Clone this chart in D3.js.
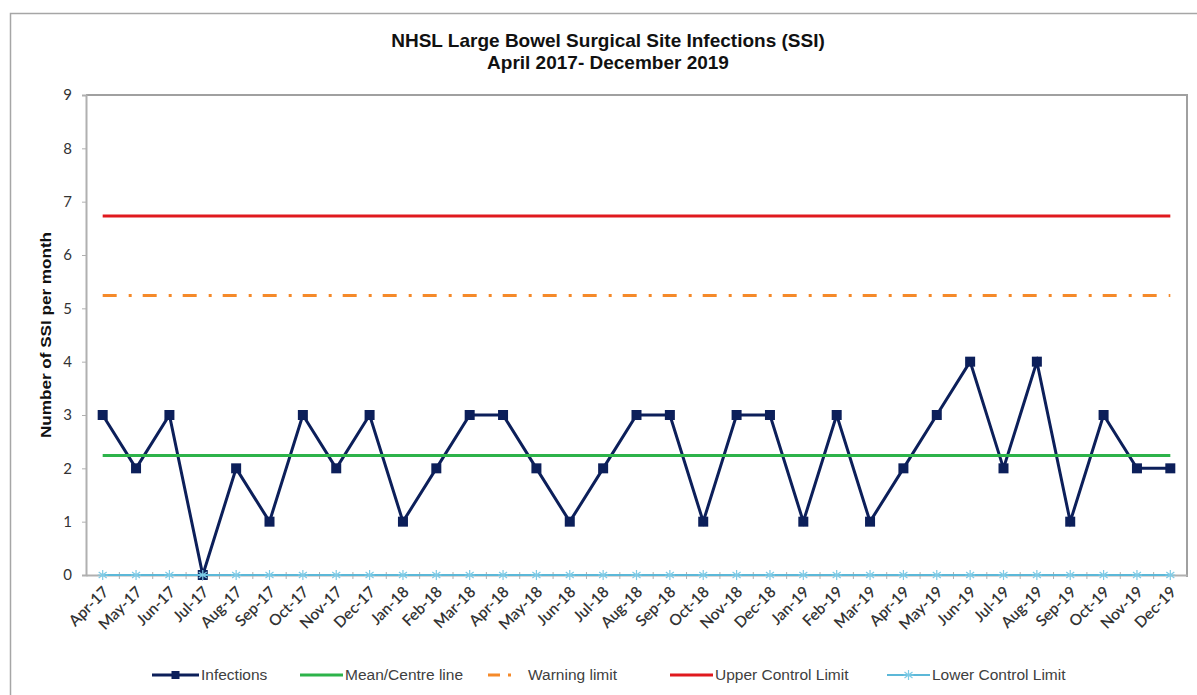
<!DOCTYPE html>
<meta charset="utf-8">
<style>
    body { margin: 0; background: #fff; }
    svg { font-family: "Liberation Sans", Arial, sans-serif; }
    .tick text { fill: #333; }
</style>
<body>
<script src="https://cdn.jsdelivr.net/npm/d3@7"></script>
<script>
    // monthly SSI counts, Apr-17 .. Dec-19
    const months = ["Apr-17","May-17","Jun-17","Jul-17","Aug-17","Sep-17","Oct-17","Nov-17","Dec-17",
        "Jan-18","Feb-18","Mar-18","Apr-18","May-18","Jun-18","Jul-18","Aug-18","Sep-18","Oct-18","Nov-18","Dec-18",
        "Jan-19","Feb-19","Mar-19","Apr-19","May-19","Jun-19","Jul-19","Aug-19","Sep-19","Oct-19","Nov-19","Dec-19"];
    const infections = [3,2,3,0,2,1,3,2,3, 1,2,3,3,2,1,2,3,3,1,3,3, 1,3,1,2,3,4,2,4,1,3,2,2];
    const meanLine = months.map(() => 2.24);
    const warningLimit = months.map(() => 5.24);
    const upperLimit = months.map(() => 6.73);
    const lowerLimit = months.map(() => 0);
    const yTicks = [0,1,2,3,4,5,6,7,8,9];

    const width = 1197, height = 695;
    const plot = {left: 86, right: 1187, top: 95, bottom: 575};

    const svg = d3.select('body').append('svg')
        .attr('width', width)
        .attr('height', height);

    svg.append('rect').attr('width', width).attr('height', height).attr('fill', '#fff');
    // chart border
    svg.append('rect')
        .attr('x', 10.5).attr('y', 13.5)
        .attr('width', 1200).attr('height', 700)
        .attr('fill', 'none').attr('stroke', '#a6a6a6').attr('stroke-width', 1.5);

    const xBand = d3.scaleBand().domain(months).range([plot.left, plot.right]);
    const x = d => xBand(d) + xBand.bandwidth() / 2;
    const y = d3.scaleLinear().domain([0, 9]).range([plot.bottom, plot.top]);

    // title
    const title = svg.append('text')
        .attr('text-anchor', 'middle')
        .style('font-weight', 'bold')
        .style('font-size', '19px')
        .attr('fill', '#111');
    title.append('tspan').attr('x', 608).attr('y', 47).text('NHSL Large Bowel Surgical Site Infections (SSI)');
    title.append('tspan').attr('x', 608).attr('y', 69).text('April 2017- December 2019');

    // plot frame (top and right)
    svg.append('path')
        .attr('d', `M${plot.left},${plot.top}H${plot.right}V${plot.bottom + 2}`)
        .attr('fill', 'none').attr('stroke', '#a0a0a0').attr('stroke-width', 2);

    // y axis
    const yAxis = svg.append('g')
        .attr('transform', `translate(${plot.left},0)`)
        .call(d3.axisLeft(y).tickValues(yTicks).tickSize(4).tickPadding(10));
    yAxis.select('.domain').attr('stroke', '#b0b0b0').attr('stroke-width', 2);
    yAxis.selectAll('.tick line').attr('stroke', '#b0b0b0');
    yAxis.selectAll('.tick text').style('font-family', 'Lato, sans-serif').style('font-size', '15px');

    svg.append('text')
        .attr('transform', `translate(51,335) rotate(-90)`)
        .attr('text-anchor', 'middle')
        .style('font-weight', 'bold')
        .style('font-size', '15px')
        .attr('textLength', 206)
        .attr('lengthAdjust', 'spacingAndGlyphs')
        .attr('fill', '#111')
        .text('Number of SSI per month');

    // x axis
    const xAxis = svg.append('g')
        .attr('transform', `translate(0,${plot.bottom})`)
        .call(d3.axisBottom(xBand).tickSize(0).tickPadding(0));
    xAxis.select('.domain').attr('stroke', '#b0b0b0').attr('stroke-width', 2);
    xAxis.selectAll('.tick text')
        .style('font-family', 'Lato, sans-serif')
        .style('font-size', '15.5px')
        .style('font-weight', '600')
        .attr('text-anchor', 'end')
        .attr('dy', '0.35em')
        .attr('transform', 'translate(3,14) rotate(-45)');
    // ticks between categories
    xAxis.selectAll('.cat-tick')
        .data(months.slice(1))
        .enter().append('line')
        .attr('class', 'cat-tick')
        .attr('x1', d => xBand(d)).attr('x2', d => xBand(d))
        .attr('y1', -3).attr('y2', 4)
        .attr('stroke', '#b0b0b0');

    const line = d3.line().x((d, i) => x(months[i])).y(d => y(d));

    // infections
    svg.append('path')
        .datum(infections)
        .attr('d', line)
        .attr('fill', 'none').attr('stroke', '#0c1f5a').attr('stroke-width', 3);
    svg.selectAll('.inf')
        .data(infections)
        .enter().append('rect')
        .attr('class', 'inf')
        .attr('x', (d, i) => x(months[i]) - 5)
        .attr('y', d => y(d) - 5)
        .attr('width', 10).attr('height', 10)
        .attr('fill', '#0c1f5a');

    // mean
    svg.append('path').datum(meanLine).attr('d', line)
        .attr('fill', 'none').attr('stroke', '#2db34a').attr('stroke-width', 3);

    // warning limit
    svg.append('path').datum(warningLimit).attr('d', line)
        .attr('fill', 'none').attr('stroke', '#f58a2a').attr('stroke-width', 3)
        .attr('stroke-dasharray', '14,12,3,11');

    // upper control limit
    svg.append('path').datum(upperLimit).attr('d', line)
        .attr('fill', 'none').attr('stroke', '#e0191e').attr('stroke-width', 3);

    // lower control limit
    svg.append('path').datum(lowerLimit).attr('d', line)
        .attr('fill', 'none').attr('stroke', '#5cb8d8').attr('stroke-width', 2);
    const star = 'M0,-5V5M-4,-3L4,3M-4,3L4,-3M-5,0H5';
    svg.selectAll('.lcl')
        .data(lowerLimit)
        .enter().append('path')
        .attr('class', 'lcl')
        .attr('transform', (d, i) => `translate(${x(months[i])},${y(d)})`)
        .attr('d', star)
        .attr('fill', 'none').attr('stroke', '#7fcbe6').attr('stroke-width', 1.2);

    // legend
    const legendY = 675;
    const legendItems = [
        {name: 'Infections', x0: 152, x1: 199, color: '#0c1f5a', w: 3, marker: 'square'},
        {name: 'Mean/Centre line', x0: 300, x1: 343, color: '#2db34a', w: 3},
        {name: 'Warning limit', x0: 488, x1: 512, color: '#f58a2a', w: 3, dash: '12,8,3,40', tx: 528},
        {name: 'Upper Control Limit', x0: 670, x1: 713, color: '#e0191e', w: 3},
        {name: 'Lower Control Limit', x0: 887, x1: 930, color: '#5cb8d8', w: 2, marker: 'star'}
    ];
    const legend = svg.append('g');
    legendItems.forEach(it => {
        const g = legend.append('g');
        g.append('line')
            .attr('x1', it.x0).attr('x2', it.x1)
            .attr('y1', legendY).attr('y2', legendY)
            .attr('stroke', it.color).attr('stroke-width', it.w)
            .attr('stroke-dasharray', it.dash || null);
        const cx = (it.x0 + it.x1) / 2;
        if (it.marker === 'square') {
            g.append('rect').attr('x', cx - 4).attr('y', legendY - 4)
                .attr('width', 8).attr('height', 8).attr('fill', it.color);
        } else if (it.marker === 'star') {
            g.append('path').attr('transform', `translate(${cx},${legendY})`)
                .attr('d', star).attr('fill', 'none').attr('stroke', '#7fcbe6').attr('stroke-width', 1.2);
        }
        g.append('text')
            .attr('x', it.tx || it.x1 + 2).attr('y', legendY)
            .attr('dy', '0.35em')
            .style('font-size', '15.5px')
            .attr('fill', '#404040')
            .text(it.name);
    });
</script>
</body>
